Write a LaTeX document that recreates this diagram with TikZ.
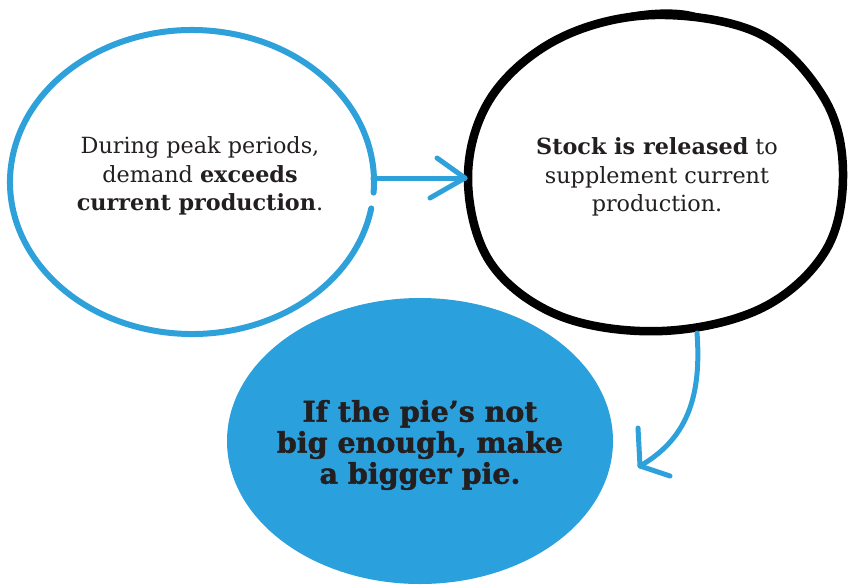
\documentclass[tikz,border=0pt]{standalone}
\usepackage{fontspec}
\setmainfont{DejaVu Serif}
\newfontfamily\heavyfont{DejaVu Serif Bold}[FakeBold=1.6]
\definecolor{sblue}{HTML}{2EA0DA}
\definecolor{pieblue}{HTML}{2AA0DC}
\definecolor{ink}{HTML}{231F20}
\tikzset{
  bluestroke/.style={draw=sblue,line width=6pt,line cap=round,line join=round},
  blackstroke/.style={draw=black,line width=8.5pt,line cap=round,line join=round},
  arrowline/.style={draw=sblue,line width=5pt,line cap=round,line join=round},
  bodytext/.style={align=center,text=ink,font=\fontsize{22.3}{28.5}\selectfont},
  bigtext/.style={align=center,text=ink,font=\fontsize{28.5}{31}\selectfont\heavyfont}
}
\begin{document}
\begin{tikzpicture}[x=1pt,y=-1pt]
\useasboundingbox (0,0) rectangle (850,584);
% blue filled ellipse
\fill[pieblue] (420,441) ellipse [x radius=193, y radius=143];
% left circle (open stroke)
\draw[bluestroke] (192,182) ++(10:182 and 152) arc[start angle=10, end angle=364, x radius=182, y radius=152];
% right black circle
\draw[blackstroke] plot[smooth cycle, tension=0.6] coordinates {
  (655,15) (760,34) (824,98) (843,172) (826,250) (762,308) (662,331)
  (560,316) (490,262) (468,176) (492,96) (560,38)};
\draw[blackstroke,line width=6pt] (630,16) .. controls (660,10) and (690,12) .. (700,18);
% text
\node[bodytext] (t1) at (200,176) {During peak periods,\\demand \textbf{exceeds}\\\textbf{current production}.};
\node[bodytext] (t2) at (657,177) {\textbf{Stock is released} to\\supplement current\\production.};
\node[bigtext] (t3) at (420,445) {If the pie’s not\\big enough, make\\a bigger pie.};
% arrow 1
\coordinate (a1s) at (373,178);
\coordinate (a1e) at (465,178);
\coordinate (a1u) at (437,158);
\coordinate (a1d) at (430,198);
\draw[arrowline] (a1s) -- (a1e);
\draw[arrowline] (a1u) -- (a1e) -- (a1d);
% arrow 2
\coordinate (a2s) at (697,333);
\coordinate (a2e) at (640,466);
\coordinate (a2u) at (638,428);
\coordinate (a2d) at (670,476);
\draw[arrowline] (a2s) .. controls (702,400) and (685,440) .. (a2e);
\draw[arrowline] (a2u) -- (a2e) -- (a2d);
\end{tikzpicture}
\end{document}
